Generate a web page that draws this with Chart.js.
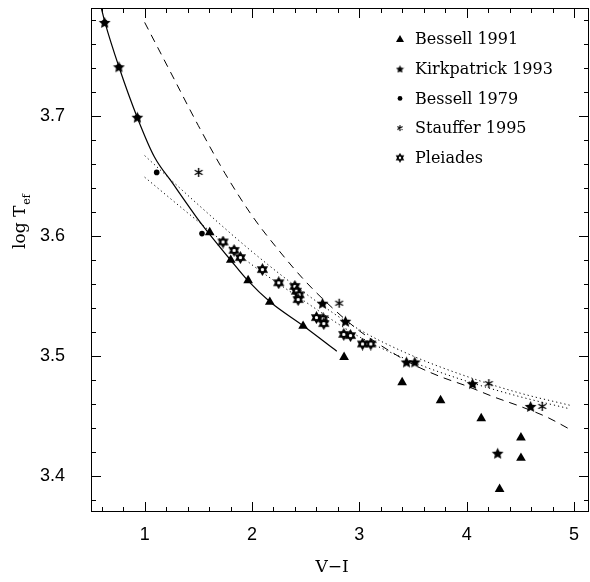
<!DOCTYPE html>
<html>
<head>
<meta charset="utf-8">
<script src="https://cdn.jsdelivr.net/npm/chart.js@4"></script>
<style>
  html, body { margin: 0; padding: 0; background: #fff; }
</style>
</head>
<body>
<canvas id="chart" width="590" height="582"></canvas>
<script>
// tick labels
const xTicks = [1, 2, 3, 4, 5];
const yTicks = [3.4, 3.5, 3.6, 3.7];

// Bessell 1991 (triangles)
const bessell91X = [1.606, 1.802, 1.964, 2.166, 2.476, 2.858, 3.399, 3.757, 4.136, 4.506, 4.506, 4.307];
const bessell91Y = [3.603, 3.580, 3.563, 3.545, 3.525, 3.499, 3.478, 3.463, 3.448, 3.432, 3.415, 3.389];

// Kirkpatrick 1993 (filled stars)
const kirkX = [0.627, 0.760, 0.932, 2.657, 2.871, 3.440, 3.517, 4.055, 4.596, 4.289];
const kirkY = [3.778, 3.741, 3.699, 3.544, 3.529, 3.495, 3.495, 3.477, 3.458, 3.419];

// Bessell 1979 (dots)
const bessell79X = [0.627, 0.760, 0.932, 1.112, 1.534];
const bessell79Y = [3.778, 3.741, 3.699, 3.653, 3.602];

// Stauffer 1995 (asterisks)
const staufferX = [1.503, 2.812, 4.207, 4.704];
const staufferY = [3.653, 3.544, 3.477, 3.458];

// Pleiades (open six-point stars)
const pleiadesX = [1.730, 1.833, 1.892, 2.097, 2.249, 2.399, 2.414, 2.439, 2.430, 2.601, 2.663, 2.669, 2.855, 2.918, 3.030, 3.107];
const pleiadesY = [3.595, 3.588, 3.582, 3.572, 3.561, 3.558, 3.554, 3.551, 3.547, 3.532, 3.531, 3.527, 3.518, 3.517, 3.510, 3.510];

// curves
const solidX = [0.596, 0.630, 0.760, 0.930, 1.090, 1.260, 1.480, 1.600, 1.800, 1.960, 2.170, 2.480, 2.790];
const solidY = [3.790, 3.778, 3.741, 3.699, 3.666, 3.644, 3.616, 3.602, 3.580, 3.563, 3.545, 3.525, 3.504];

const dashX = [1.0, 1.25, 1.5, 1.75, 2.0, 2.25, 2.5, 2.75, 3.0, 3.25, 3.5, 3.75, 4.0, 4.25, 4.5, 4.75, 4.96];
const dashY = [3.778, 3.735, 3.692, 3.652, 3.617, 3.588, 3.562, 3.540, 3.521, 3.506, 3.493, 3.483, 3.475, 3.466, 3.458, 3.449, 3.439];

const dotX = [1.0, 1.5, 2.0, 2.5, 3.0, 3.5, 4.0, 4.5, 4.96];
const dotUpperY = [3.667, 3.626, 3.587, 3.552, 3.522, 3.500, 3.483, 3.469, 3.459];
const dotLowerY = [3.649, 3.612, 3.576, 3.545, 3.516, 3.495, 3.479, 3.466, 3.456];

function pts(xs, ys) {
  return xs.map((x, i) => ({x: x, y: ys[i]}));
}

// marker images
function makeCanvas(size) {
  const c = document.createElement('canvas');
  c.width = size; c.height = size;
  return c;
}

function starMarker(size) {
  const c = makeCanvas(size), g = c.getContext('2d');
  const r = size / 2, ri = r * 0.45;
  g.beginPath();
  for (let i = 0; i < 10; i++) {
    const a = -Math.PI / 2 + i * Math.PI / 5;
    const rr = i % 2 ? ri : r - 0.3;
    g.lineTo(r + rr * Math.cos(a), r + 0.6 + rr * Math.sin(a));
  }
  g.closePath();
  g.fillStyle = '#000';
  g.fill();
  return c;
}

function asteriskMarker(size, lw) {
  const c = makeCanvas(size), g = c.getContext('2d');
  const r = size / 2;
  g.strokeStyle = '#000';
  g.lineWidth = lw;
  g.beginPath();
  for (let i = 0; i < 3; i++) {
    const a = Math.PI / 2 + i * Math.PI / 3;
    g.moveTo(r + (r - 1) * Math.cos(a), r + (r - 1) * Math.sin(a));
    g.lineTo(r - (r - 1) * Math.cos(a), r - (r - 1) * Math.sin(a));
  }
  g.stroke();
  return c;
}

function hexagramMarker(size, lw) {
  const c = makeCanvas(size), g = c.getContext('2d');
  const r = size / 2 - lw;
  g.strokeStyle = '#000';
  g.fillStyle = '#fff';
  g.lineWidth = lw;
  g.lineJoin = 'miter';
  for (const off of [-Math.PI / 2, Math.PI / 2]) {
    g.beginPath();
    for (let i = 0; i < 3; i++) {
      const a = off + i * 2 * Math.PI / 3;
      g.lineTo(size / 2 + r * Math.cos(a), size / 2 + r * Math.sin(a));
    }
    g.closePath();
    g.fill();
  }
  for (const off of [-Math.PI / 2, Math.PI / 2]) {
    g.beginPath();
    for (let i = 0; i < 3; i++) {
      const a = off + i * 2 * Math.PI / 3;
      g.lineTo(size / 2 + r * Math.cos(a), size / 2 + r * Math.sin(a));
    }
    g.closePath();
    g.stroke();
  }
  return c;
}

const starImg = starMarker(13);
const asteriskImg = asteriskMarker(11, 1.4);
const hexImg = hexagramMarker(13, 1.7);
const starLegend = starMarker(9);
const asteriskLegend = asteriskMarker(8, 1.1);
const hexLegend = hexagramMarker(10, 1.3);

// frame, inward ticks, legend and axis titles
const framePlugin = {
  id: 'frame',
  afterDraw(chart) {
    const {ctx, chartArea: a, scales} = chart;
    const xs = scales.x, ys = scales.y;
    ctx.save();
    ctx.strokeStyle = '#000';
    ctx.lineWidth = 1;
    ctx.strokeRect(a.left + 0.5, a.top + 0.5, a.right - a.left - 1, a.bottom - a.top - 1);
    ctx.beginPath();
    for (let v = 0.6; v < xs.max; v += 0.2) {
      const major = Math.abs(v - Math.round(v)) < 1e-6;
      const len = major ? 10 : 5;
      const px = Math.round(xs.getPixelForValue(v)) + 0.5;
      ctx.moveTo(px, a.bottom); ctx.lineTo(px, a.bottom - len);
      ctx.moveTo(px, a.top); ctx.lineTo(px, a.top + len);
    }
    for (let v = 3.38; v < ys.max; v += 0.02) {
      const major = Math.abs(v * 10 - Math.round(v * 10)) < 1e-6;
      const len = major ? 10 : 5;
      const py = Math.round(ys.getPixelForValue(v)) + 0.5;
      ctx.moveTo(a.left, py); ctx.lineTo(a.left + len, py);
      ctx.moveTo(a.right, py); ctx.lineTo(a.right - len, py);
    }
    ctx.stroke();

    // legend
    const items = [
      {label: 'Bessell 1991', kind: 'tri'},
      {label: 'Kirkpatrick 1993', img: starLegend},
      {label: 'Bessell 1979', kind: 'dot'},
      {label: 'Stauffer 1995', img: asteriskLegend},
      {label: 'Pleiades', img: hexLegend}
    ];
    ctx.font = '16px "DejaVu Serif"';
    ctx.fillStyle = '#000';
    ctx.textBaseline = 'middle';
    ctx.textAlign = 'left';
    items.forEach((it, i) => {
      const y = a.top + 31 + i * 29.7;
      const x = 400;
      if (it.kind === 'tri') {
        ctx.beginPath();
        ctx.moveTo(x, y - 4); ctx.lineTo(x + 4, y + 3); ctx.lineTo(x - 4, y + 3);
        ctx.closePath(); ctx.fill();
      } else if (it.kind === 'dot') {
        ctx.beginPath(); ctx.arc(x, y, 2.4, 0, 2 * Math.PI); ctx.fill();
      } else {
        ctx.drawImage(it.img, x - it.img.width / 2, y - it.img.height / 2);
      }
      ctx.fillText(it.label, 415, y + 1);
    });

    // axis titles
    ctx.textAlign = 'center';
    ctx.font = '17px "DejaVu Serif"';
    ctx.fillText('V\u2212I', 332, 568);

    ctx.translate(21, 222);
    ctx.rotate(-Math.PI / 2);
    ctx.textAlign = 'left';
    ctx.font = '17px "DejaVu Serif"';
    const main = 'log T';
    const w1 = ctx.measureText(main).width;
    ctx.font = '11px "DejaVu Serif"';
    const w2 = ctx.measureText('ef').width;
    const x0 = -(w1 + w2) / 2;
    ctx.font = '17px "DejaVu Serif"';
    ctx.fillText(main, x0, 0);
    ctx.font = '11px "DejaVu Serif"';
    ctx.fillText('ef', x0 + w1 + 1, 6);
    ctx.restore();
  }
};

const lineBase = {
  type: 'line',
  showLine: true,
  pointRadius: 0,
  borderColor: '#000',
  borderWidth: 1,
  cubicInterpolationMode: 'monotone',
  fill: false
};

function noPad(s) {
  s.paddingTop = 0; s.paddingBottom = 0; s.paddingLeft = 0; s.paddingRight = 0;
}

new Chart(document.getElementById('chart'), {
  type: 'scatter',
  data: {
    datasets: [
      {label: 'Pleiades', data: pts(pleiadesX, pleiadesY), pointStyle: hexImg, pointRadius: 6},
      {label: 'Stauffer 1995', data: pts(staufferX, staufferY), pointStyle: asteriskImg, pointRadius: 5},
      {label: 'Bessell 1979', data: pts(bessell79X, bessell79Y), pointStyle: 'circle', pointRadius: 2.8,
        backgroundColor: '#000', borderColor: '#000', borderWidth: 0},
      {label: 'Kirkpatrick 1993', data: pts(kirkX, kirkY), pointStyle: starImg, pointRadius: 6},
      {label: 'Bessell 1991', data: pts(bessell91X, bessell91Y), pointStyle: 'triangle', pointRadius: 5.6,
        backgroundColor: '#000', borderColor: '#000', borderWidth: 0},
      Object.assign({}, lineBase, {label: 'solid', data: pts(solidX, solidY), borderWidth: 1.2}),
      Object.assign({}, lineBase, {label: 'dashed', data: pts(dashX, dashY), borderDash: [8, 6]}),
      Object.assign({}, lineBase, {label: 'dotted1', data: pts(dotX, dotUpperY), borderDash: [1.2, 3]}),
      Object.assign({}, lineBase, {label: 'dotted2', data: pts(dotX, dotLowerY), borderDash: [1.2, 3]})
    ]
  },
  options: {
    responsive: false,
    animation: false,
    clip: 0,
    layout: {autoPadding: false, padding: {top: 8, right: 1, left: 0, bottom: 0}},
    plugins: {
      legend: {display: false},
      tooltip: {enabled: false}
    },
    scales: {
      x: {
        type: 'linear',
        min: 0.5,
        max: 5.14,
        grid: {display: false, drawTicks: false},
        border: {display: false},
        afterBuildTicks: (s) => { s.ticks = xTicks.map(v => ({value: v})); },
        afterFit: (s) => { s.height = 70; noPad(s); },
        ticks: {
          padding: 12,
          color: '#000',
          font: {family: 'Liberation Sans', size: 18},
          callback: (v) => String(v)
        }
      },
      y: {
        type: 'linear',
        min: 3.37,
        max: 3.79,
        grid: {display: false, drawTicks: false},
        border: {display: false},
        afterBuildTicks: (s) => { s.ticks = yTicks.map(v => ({value: v})); },
        afterFit: (s) => { s.width = 91; noPad(s); },
        ticks: {
          padding: 26,
          color: '#000',
          font: {family: 'Liberation Sans', size: 18},
          callback: (v) => v.toFixed(1)
        }
      }
    }
  },
  plugins: [framePlugin]
});
</script>
</body>
</html>
